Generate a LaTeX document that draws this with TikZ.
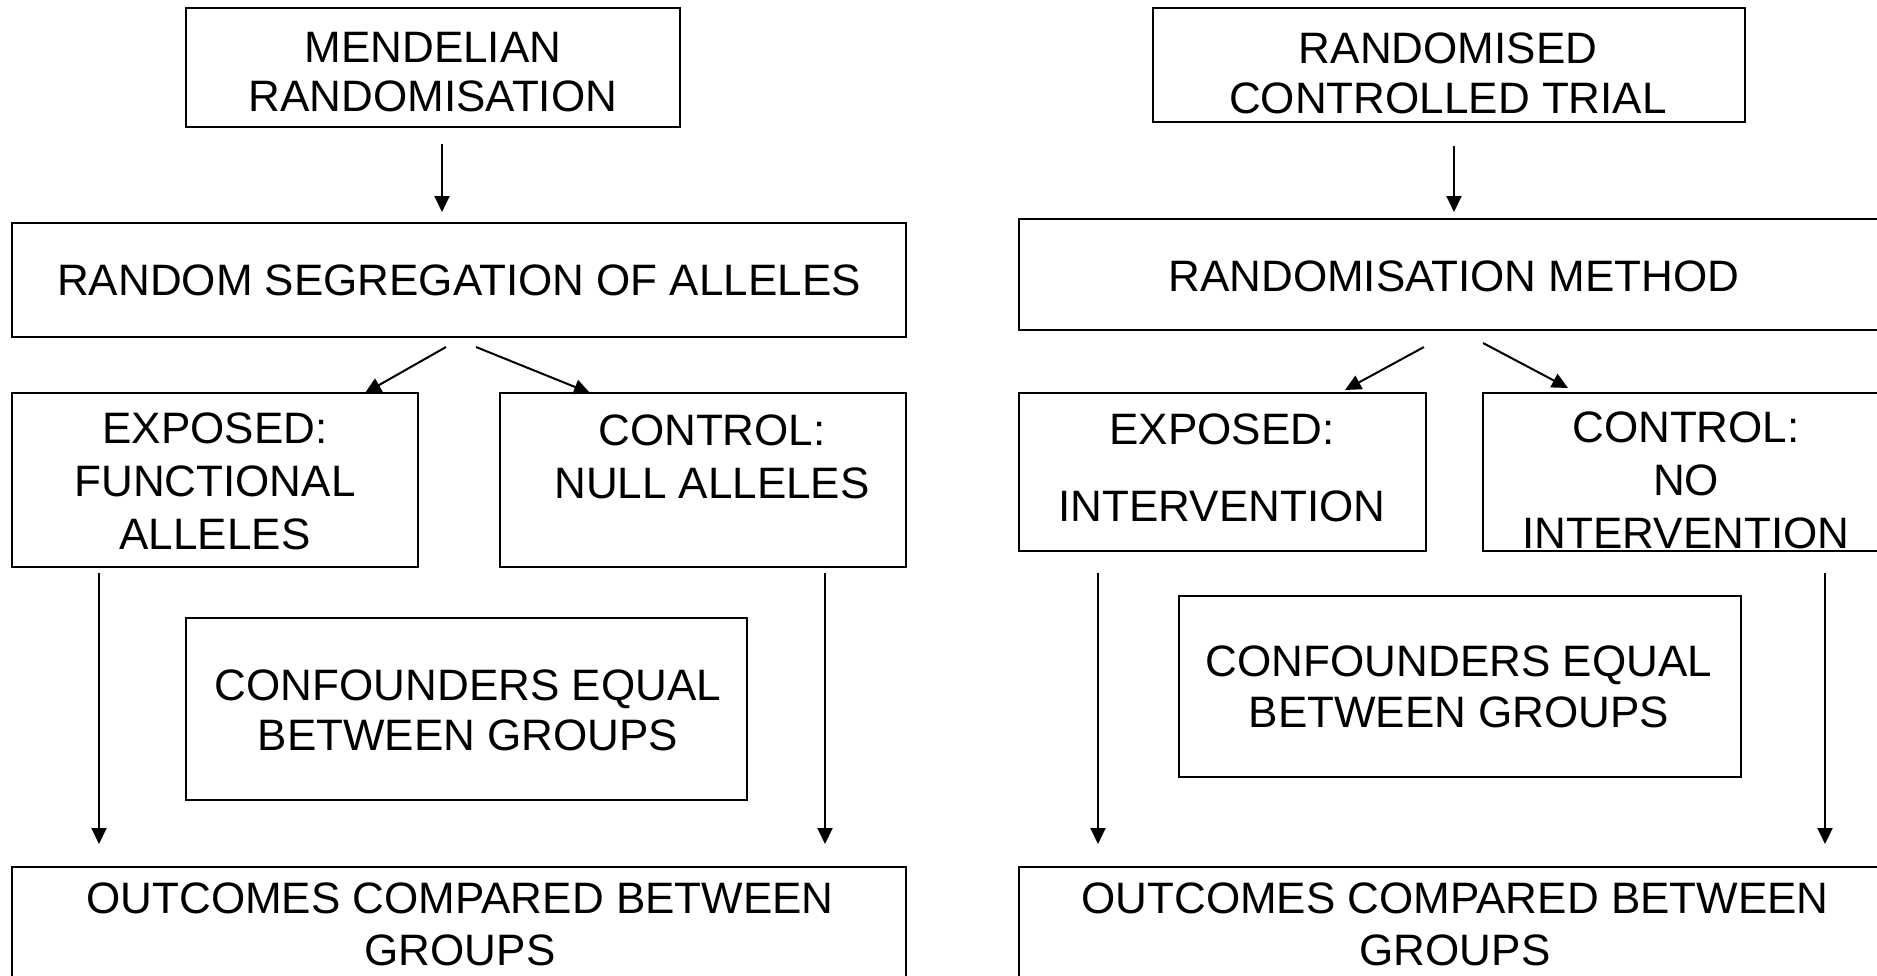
\documentclass[tikz,border=0pt]{standalone}
\usepackage{fontspec}
\setmainfont{Liberation Sans}
\usetikzlibrary{arrows.meta}
\begin{document}
\begin{tikzpicture}[x=1pt,y=-1pt,
  box/.style={draw, line width=2pt, rectangle, outer sep=0pt, inner sep=0pt},
  lbl/.style={align=center, inner sep=0pt, font=\fontsize{44}{#1}\selectfont},
  lbl/.default=52,
  arr/.style={line width=2pt, -{Triangle[length=16pt,width=15pt]}}]
\useasboundingbox (0,0) rectangle (1877,975);
\clip (0,0) rectangle (1877,975);

% ---- Mendelian randomisation ----
\node[box, minimum width=494pt, minimum height=119pt] (mr)    at (433,67.5)  {};
\node[box, minimum width=894pt, minimum height=114pt] (rsa)   at (459,280)   {};
\node[box, minimum width=406pt, minimum height=174pt] (exp1)  at (215,480)   {};
\node[box, minimum width=406pt, minimum height=174pt] (ctl1)  at (703,480)   {};
\node[box, minimum width=561pt, minimum height=182pt] (conf1) at (466.5,709) {};
\node[box, minimum width=894pt, minimum height=233pt] (out1)  at (459,983.5) {};

\node[lbl=49] (mrT)   at (433,72.5) {MENDELIAN\\RANDOMISATION};
\node[lbl]    (rsaT)  at (459,280)  {RANDOM SEGREGATION OF ALLELES};
\node[lbl=53] (exp1T) at (215,481)  {EXPOSED:\\FUNCTIONAL\\ALLELES};
\node[lbl=53] (ctl1T) at (712,456.5){CONTROL:\\NULL ALLELES};
\node[lbl=50] (conf1T) at (468,710) {CONFOUNDERS EQUAL\\BETWEEN GROUPS};
\node[lbl]    (out1T) at (460,924)  {OUTCOMES COMPARED BETWEEN\\GROUPS};

\draw[arr] ([xshift=9pt,yshift=-17pt]mr.south) -- ([xshift=-17pt,yshift=11pt]rsa.north);
\draw[arr] ([xshift=-13pt,yshift=-10pt]rsa.south) -- ([xshift=150pt]exp1.north);
\draw[arr] ([xshift=17pt,yshift=-10pt]rsa.south) -- ([xshift=-113pt]ctl1.north);
\draw[arr] ([xshift=-116pt,yshift=-6pt]exp1.south) -- ([xshift=-360pt,yshift=23pt]out1.north);
\draw[arr] ([xshift=122pt,yshift=-6pt]ctl1.south) -- ([xshift=366pt,yshift=23pt]out1.north);

% ---- Randomised controlled trial ----
\node[box, minimum width=592pt, minimum height=114pt] (rct)   at (1449,65)    {};
\node[box, minimum width=870pt, minimum height=111pt] (rm)    at (1454,274.5) {};
\node[box, minimum width=407pt, minimum height=158pt] (exp2)  at (1222.5,472) {};
\node[box, minimum width=406pt, minimum height=158pt] (ctl2)  at (1686,472)   {};
\node[box, minimum width=562pt, minimum height=181pt] (conf2) at (1460,686.5) {};
\node[box, minimum width=870pt, minimum height=233pt] (out2)  at (1454,983.5) {};

\node[lbl=50] (rctT)  at (1448,73.5)  {RANDOMISED\\CONTROLLED TRIAL};
\node[lbl]    (rmT)   at (1454,276)   {RANDOMISATION METHOD};
\node[lbl=50] (exp2T) at (1222,468)   {EXPOSED:\\[27pt]INTERVENTION};
\node[lbl=53] (ctl2T) at (1686,480.5) {CONTROL:\\NO\\INTERVENTION};
\node[lbl=51] (conf2T) at (1459,686.5){CONFOUNDERS EQUAL\\BETWEEN GROUPS};
\node[lbl]    (out2T) at (1455,924)   {OUTCOMES COMPARED BETWEEN\\GROUPS};

\draw[arr] ([xshift=5pt,yshift=-24pt]rct.south) -- ([yshift=7pt]rm.north);
\draw[arr] ([xshift=-30pt,yshift=-17pt]rm.south) -- ([xshift=122.5pt,yshift=3pt]exp2.north);
\draw[arr] ([xshift=29pt,yshift=-13pt]rm.south) -- ([xshift=-118pt,yshift=5pt]ctl2.north);
\draw[arr] ([xshift=-124.5pt,yshift=-22pt]exp2.south) -- ([xshift=-356pt,yshift=23pt]out2.north);
\draw[arr] ([xshift=139pt,yshift=-22pt]ctl2.south) -- ([xshift=371pt,yshift=23pt]out2.north);
\end{tikzpicture}
\end{document}
